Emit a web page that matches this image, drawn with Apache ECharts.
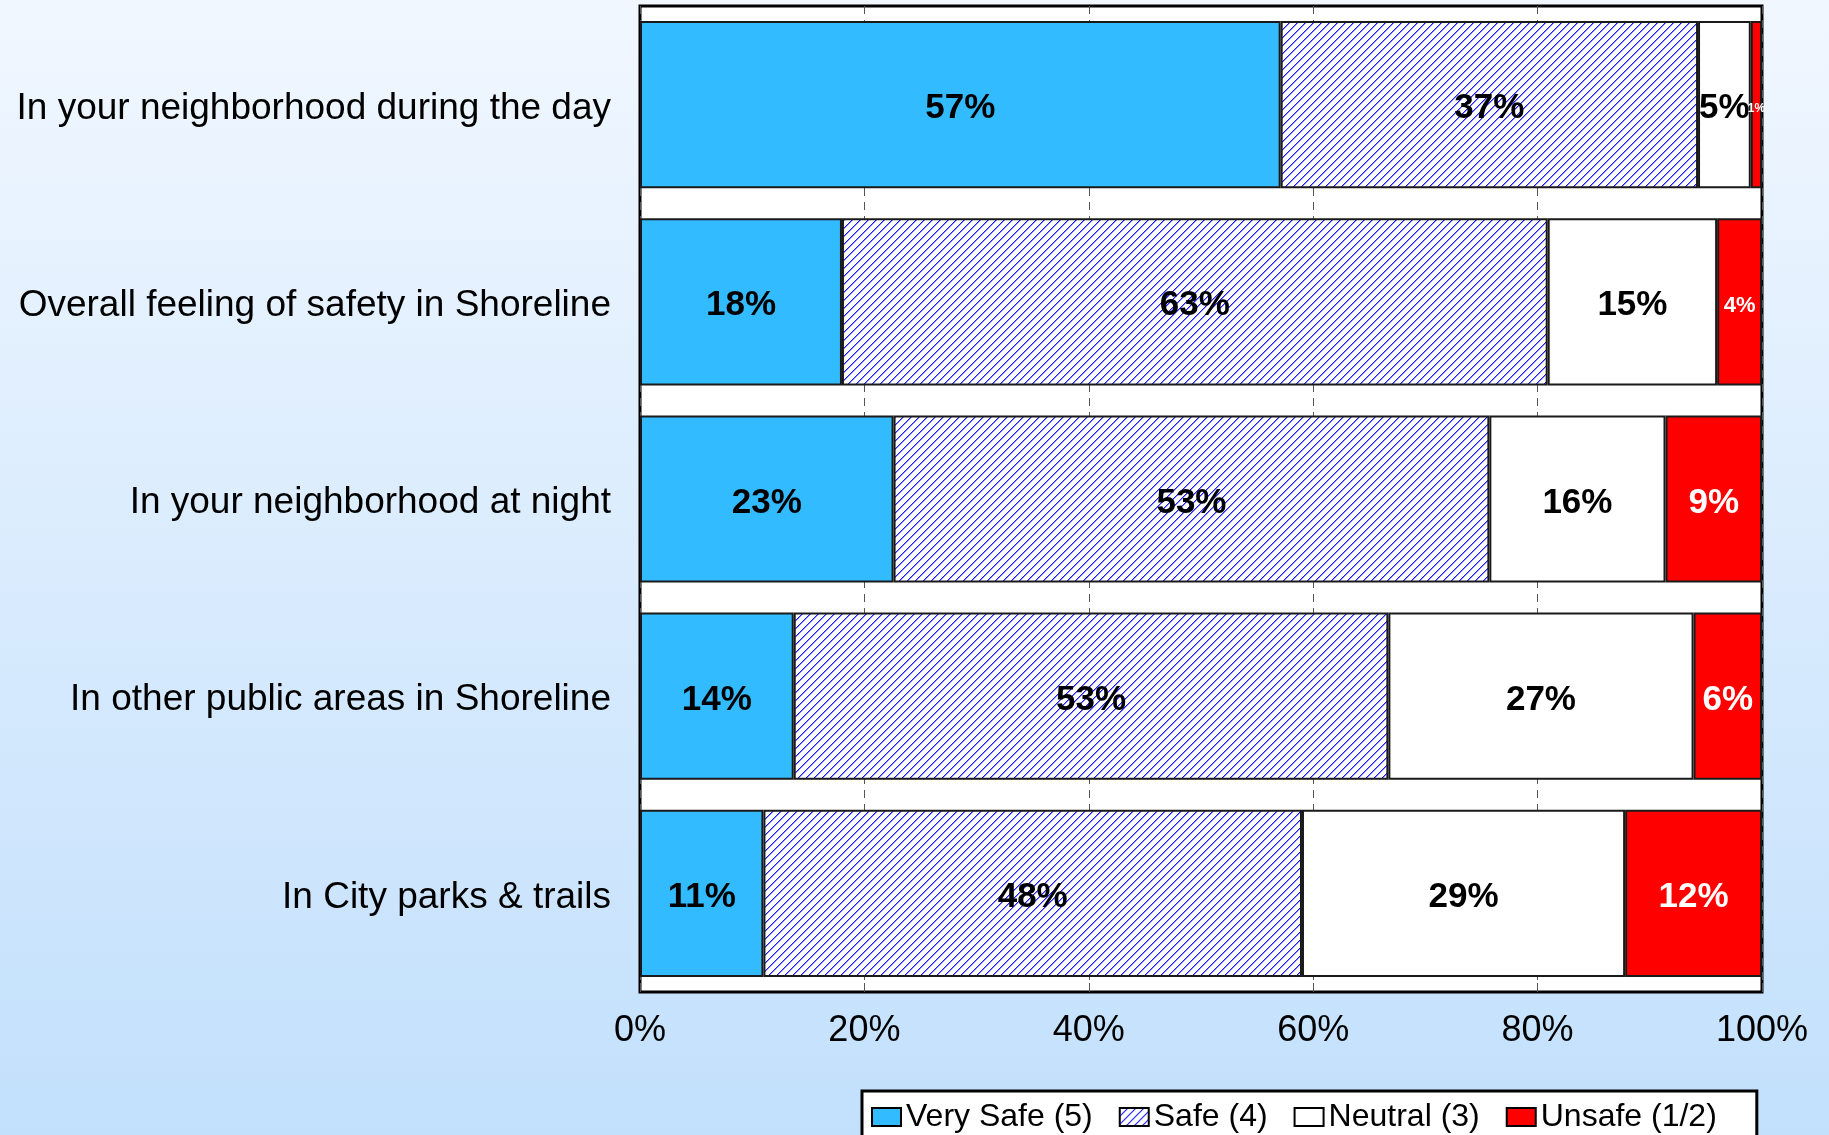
<!DOCTYPE html>
<html>
<head>
<meta charset="utf-8">
<script src="https://cdn.jsdelivr.net/npm/echarts@6/dist/echarts.min.js"></script>
<style>
html,body{margin:0;padding:0;}
#c{width:1829px;height:1135px;}
</style>
</head>
<body>
<div id="c"></div>
<script>
// ---- data ----
const categories = [
  'In your neighborhood during the day',
  'Overall feeling of safety in Shoreline',
  'In your neighborhood at night',
  'In other public areas in Shoreline',
  'In City parks & trails'
];
const seriesNames = ['Very Safe (5)', 'Safe (4)', 'Neutral (3)', 'Unsafe (1/2)'];
const verySafe = [57.1, 18.0, 22.6, 13.7, 11.0];
const safe     = [37.2, 62.9, 53.1, 53.0, 48.0];
const neutral  = [4.7, 15.1, 15.7, 27.2, 28.8];
const unsafe   = [1.0, 4.0, 8.6, 6.1, 12.2];
const tickValues = [0, 20, 40, 60, 80, 100];

// ---- styles ----
function hatch(size, color, soft) {
  const c = document.createElement('canvas');
  c.width = size; c.height = size;
  const g = c.getContext('2d');
  g.fillStyle = '#ffffff';
  g.fillRect(0, 0, size, size);
  for (let i = 0; i < size; i++) {
    g.fillStyle = soft;
    g.fillRect((i + 1) % size, size - 1 - i, 1, 1);
    g.fillStyle = color;
    g.fillRect(i, size - 1 - i, 1, 1);
  }
  return c;
}
const hatchFill = { image: hatch(8, '#1a1aff', '#8c8cff'), repeat: 'repeat' };
const colors = ['#33bbff', hatchFill, '#ffffff', '#ff0000'];
const labelColors = ['#000', '#000', '#000', '#fff'];
const unsafeLabelSizes = [12, 22, 35, 35, 35];

const chart = echarts.init(document.getElementById('c'), null, { renderer: 'canvas' });

const valueSets = [verySafe, safe, neutral, unsafe];
const series = valueSets.map((vals, si) => ({
  name: seriesNames[si],
  type: 'bar',
  stack: 'total',
  barCategoryGap: '15.2%',
  itemStyle: { color: colors[si], borderColor: '#1a1a1a', borderWidth: 2 },
  label: {
    show: true,
    position: 'inside',
    offset: [0, 4],
    color: labelColors[si],
    fontFamily: 'Liberation Sans, Arial, sans-serif',
    fontWeight: 'bold',
    fontSize: 35,
    formatter: p => Math.round(p.value) + '%'
  },
  data: vals.map((v, i) => si === 3
    ? { value: v, label: { fontSize: unsafeLabelSizes[i] } }
    : v),
  z: 3
}));

chart.setOption({
  animation: false,
  backgroundColor: {
    type: 'linear', x: 0, y: 0, x2: 0, y2: 1,
    colorStops: [{ offset: 0, color: '#f1f7ff' }, { offset: 1, color: '#c2e0fc' }]
  },
  grid: {
    left: 640, top: 6, width: 1122, height: 986,
    show: true, backgroundColor: '#ffffff', borderColor: '#000', borderWidth: 3,
    containLabel: false
  },
  xAxis: {
    type: 'value', min: 0, max: 100, interval: 20,
    axisLine: { show: false },
    axisTick: { show: true, inside: true, length: 9, lineStyle: { color: '#555', width: 1 } },
    splitLine: { show: true, lineStyle: { color: '#555', width: 1, type: [8, 6] } },
    axisLabel: {
      margin: 21,
      color: '#000',
      fontFamily: 'Liberation Sans, Arial, sans-serif',
      fontSize: 36,
      formatter: v => tickValues.includes(v) ? v + '%' : ''
    }
  },
  yAxis: {
    type: 'category', data: categories, inverse: true,
    axisLine: { show: false }, axisTick: { show: false },
    axisLabel: {
      margin: 29, color: '#000',
      formatter: v => '{a|' + v + '}',
      rich: {
        a: {
          padding: [8, 0, 0, 0],
          color: '#000',
          fontFamily: 'Liberation Sans, Arial, sans-serif',
          fontSize: 37
        }
      },
      fontFamily: 'Liberation Sans, Arial, sans-serif',
      fontSize: 37
    }
  },
  legend: {
    left: 862, top: 1091,
    padding: [10, 40, 40, 9],
    itemGap: 26, itemWidth: 29, itemHeight: 18,
    backgroundColor: '#ffffff', borderColor: '#000', borderWidth: 3,
    icon: 'rect',
    itemStyle: { borderColor: '#000', borderWidth: 2 },
    textStyle: { color: '#000', fontFamily: 'Liberation Sans, Arial, sans-serif', fontSize: 32 },
    data: seriesNames
  },
  series: series
});
</script>
</body>
</html>
